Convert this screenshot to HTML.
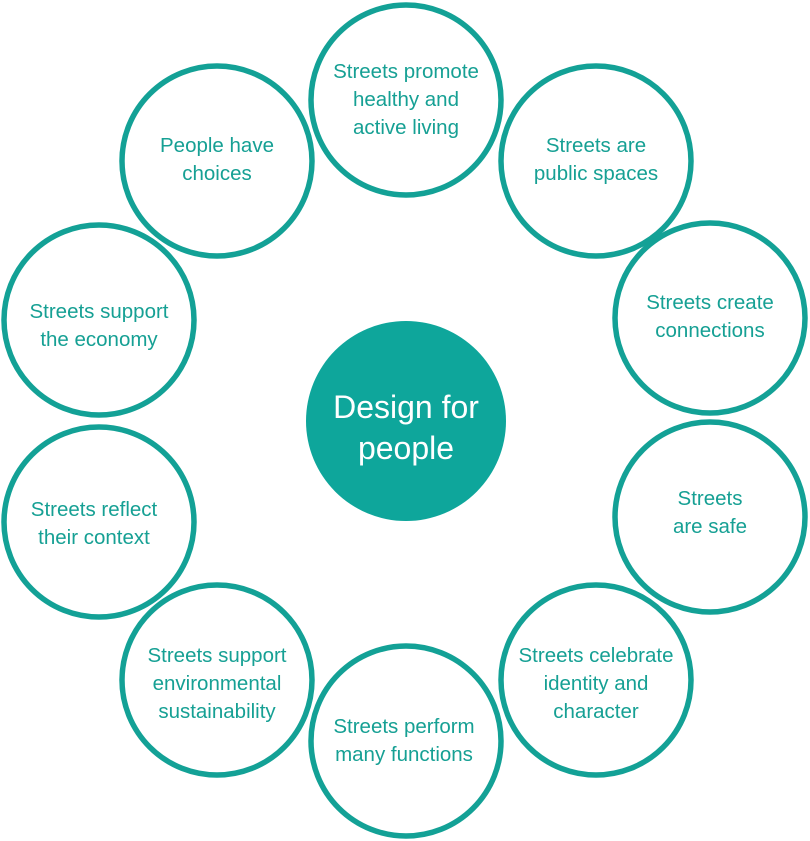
<!DOCTYPE html>
<html><head><style>
html,body{margin:0;padding:0;background:#fff;}
svg{display:block}
text{font-family:"Liberation Sans",sans-serif;fill:#16a094;font-size:20.5px;text-anchor:middle;}
</style></head><body>
<svg width="810" height="841" viewBox="0 0 810 841">
<g fill="none" stroke="#13a196" stroke-width="5.5">
<circle cx="406" cy="100" r="95"/>
<circle cx="217" cy="161" r="95"/>
<circle cx="596" cy="161" r="95"/>
<circle cx="99" cy="320" r="95"/>
<circle cx="710" cy="318" r="95"/>
<circle cx="99" cy="522" r="95"/>
<circle cx="710" cy="517" r="95"/>
<circle cx="217" cy="680" r="95"/>
<circle cx="596" cy="680" r="95"/>
<circle cx="406" cy="741" r="95"/>
</g>
<circle cx="406" cy="421" r="100" fill="#0ea69b"/>
<text x="406" y="418" style="fill:#fff;font-size:32px">Design for</text>
<text x="406" y="459" style="fill:#fff;font-size:32px">people</text>

<text x="406" y="78">Streets promote</text>
<text x="406" y="106">healthy and</text>
<text x="406" y="134">active living</text>

<text x="217" y="152">People have</text>
<text x="217" y="180">choices</text>

<text x="596" y="152">Streets are</text>
<text x="596" y="180">public spaces</text>

<text x="99" y="318">Streets support</text>
<text x="99" y="346">the economy</text>

<text x="710" y="309">Streets create</text>
<text x="710" y="337">connections</text>

<text x="94" y="516">Streets reflect</text>
<text x="94" y="544">their context</text>

<text x="710" y="505">Streets</text>
<text x="710" y="533">are safe</text>

<text x="217" y="662">Streets support</text>
<text x="217" y="690">environmental</text>
<text x="217" y="718">sustainability</text>

<text x="596" y="662">Streets celebrate</text>
<text x="596" y="690">identity and</text>
<text x="596" y="718">character</text>

<text x="404" y="733">Streets perform</text>
<text x="404" y="761">many functions</text>
</svg>
</body></html>
